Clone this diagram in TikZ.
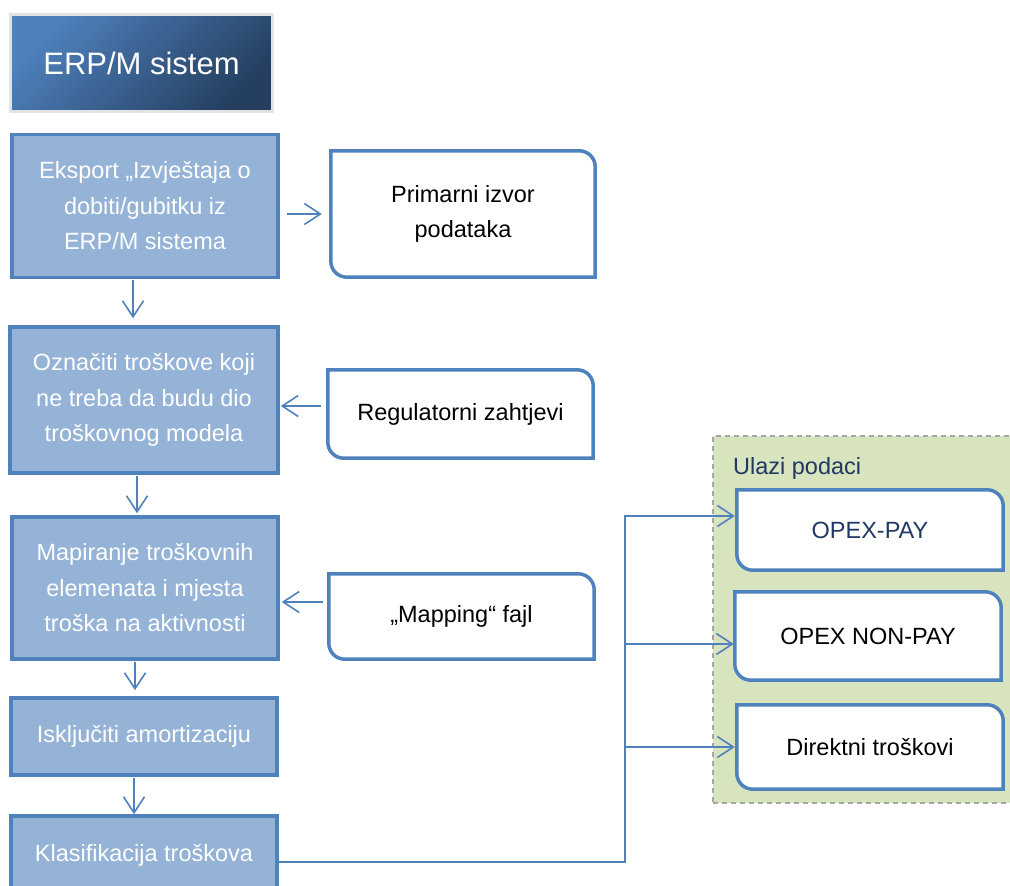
\documentclass[tikz,border=0pt]{standalone}
\usepackage{fontspec}
\setmainfont{Liberation Sans}
\usetikzlibrary{arrows.meta}

\definecolor{stepfill}{HTML}{95B3D7}
\definecolor{stepline}{HTML}{4F81BD}
\definecolor{navy}{HTML}{1F3864}
\definecolor{groupfill}{HTML}{D7E4BD}
\definecolor{groupline}{HTML}{A6A6A6}
\definecolor{hdrlight}{HTML}{4F81BD}
\definecolor{hdrdark}{HTML}{243F60}
\definecolor{hdrframe}{HTML}{E3E3E3}

% rounded only at the top-right and bottom-left corners
\newcommand\srcframe[1]{%
  \draw[srcline] (#1.north) [rounded corners=16pt] -- (#1.north east)
    [sharp corners] -- (#1.south east) [rounded corners=16pt]
    -- (#1.south west) [sharp corners] -- (#1.north west) -- cycle;}

\begin{document}
\begin{tikzpicture}[x=1pt,y=-1pt,
  txt/.style={font=\fontsize{23.5}{35.5}\selectfont},
  stepbox/.style={txt, draw=stepline, fill=stepfill, line width=3.5pt,
    text=white, align=center, inner sep=0pt},
  srcbox/.style={txt, inner sep=0pt, align=center, text=black},
  srcline/.style={draw=stepline, line width=3.5pt, fill=white},
  hdrbox/.style={draw=hdrframe, line width=3pt, top color=hdrlight,
    bottom color=hdrdark, shading angle=45, text=white, inner sep=0pt,
    font=\fontsize{31}{36}\selectfont},
  group/.style={draw=groupline, fill=groupfill, line width=1.5pt,
    dash pattern=on 5pt off 4pt},
  flow/.style={draw=stepline, line width=1.6pt,
    -{Straight Barb[length=16pt,width=21pt]}},
  link/.style={draw=stepline, line width=1.6pt}
]
\useasboundingbox (0,0) rectangle (1010,886);
\clip (0,0) rectangle (1010,886);

% header
\node[hdrbox, minimum width=262pt, minimum height=97pt] (hdr) at (141.5,63) {ERP/M sistem};

% main process column
\node[stepbox, minimum width=266pt, minimum height=143pt] (b1) at (145,206)
  {Eksport „Izvještaja o\\dobiti/gubitku iz\\ERP/M sistema};
\node[stepbox, minimum width=268pt, minimum height=146pt] (b2) at (144,400)
  {Označiti troškove koji\\ne treba da budu dio\\troškovnog modela};
\node[stepbox, minimum width=266pt, minimum height=142pt] (b3) at (145,588)
  {Mapiranje troškovnih\\elemenata i mjesta\\troška na aktivnosti};
\node[stepbox, minimum width=266pt, minimum height=77pt] (b4) at (144,736.5)
  {Isključiti amortizaciju};
\node[stepbox, minimum width=266pt, minimum height=78pt] (b5) at (144,855)
  {Klasifikacija troškova};

% side inputs
\node[srcbox, minimum width=264pt, minimum height=126pt] (p1) at (463,214) {};
\srcframe{p1}
\node[srcbox] at (p1) {Primarni izvor\\podataka};
\node[srcbox, minimum width=265pt, minimum height=88pt] (p2) at (460.5,414) {};
\srcframe{p2}
\node[srcbox] at (p2) {Regulatorni zahtjevi};
\node[srcbox, minimum width=265pt, minimum height=85pt] (p3) at (461.5,616.5) {};
\srcframe{p3}
\node[srcbox] at (p3) {„Mapping“ fajl};

% input data group
\node[group, minimum width=320pt, minimum height=367pt, inner sep=0pt] (grp) at (873,619.5) {};
\node[txt, text=navy, anchor=west, inner sep=0pt] (grptitle) at (733,468) {Ulazi podaci};
\node[srcbox, minimum width=266pt, minimum height=80pt] (o1) at (870,530) {};
\srcframe{o1}
\node[srcbox, text=navy] at (o1) {OPEX-PAY};
\node[srcbox, minimum width=266pt, minimum height=88pt] (o2) at (868,636) {};
\srcframe{o2}
\node[srcbox] at (o2) {OPEX NON-PAY};
\node[srcbox, minimum width=266pt, minimum height=84pt] (o3) at (870,747) {};
\srcframe{o3}
\node[srcbox] at (o3) {Direktni troškovi};

% connectors
\draw[flow, shorten <=7pt, shorten >=9pt] (b1.east |- p1.west) -- (p1.west);
\draw[flow, shorten <=1pt, shorten >=7pt] ([xshift=-12pt]b1.south) -- ([xshift=-12pt]b1.south |- b2.north);
\draw[flow, shorten <=7pt, shorten >=1pt] ([yshift=8pt]p2.west) -- ([yshift=8pt]p2.west -| b2.east);
\draw[flow, shorten <=1pt, shorten >=2pt] ([xshift=-7pt]b2.south) -- ([xshift=-7pt]b2.south |- b3.north);
\draw[flow, shorten <=6pt, shorten >=2pt] ([yshift=14.5pt]p3.west) -- ([yshift=14.5pt]p3.west -| b3.east);
\draw[flow, shorten <=1pt, shorten >=6pt] ([xshift=-10pt]b3.south) -- ([xshift=-10pt]b3.south |- b4.north);
\draw[flow, shorten <=1pt, shorten >=0pt] ([xshift=-10pt]b4.south) -- ([xshift=-10pt]b4.south |- b5.north);

\coordinate (in1) at ([yshift=14pt]o1.west);
\coordinate (in2) at ([yshift=-8pt]o2.west);
\coordinate (in3) at (o3.west);
\coordinate (trunk) at (625,516);
\draw[flow, shorten >=2pt] ([yshift=-7pt]b5.east) -| (trunk) -- (in1);
\draw[flow, shorten >=1pt] (trunk |- in2) -- (in2);
\draw[flow, shorten >=2pt] (trunk |- in3) -- (in3);
\end{tikzpicture}
\end{document}
